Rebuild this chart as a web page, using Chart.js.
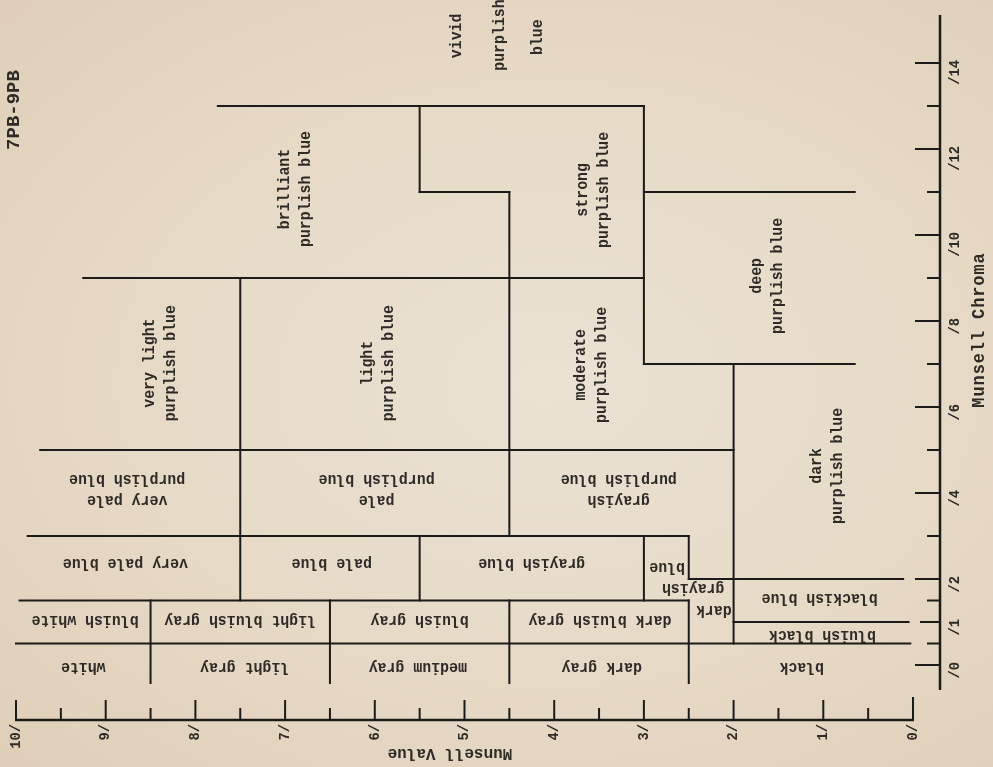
<!DOCTYPE html>
<html>
<head>
<meta charset="utf-8">
<title>7PB-9PB</title>
<script src="https://cdn.jsdelivr.net/npm/chart.js@4.4.0/dist/chart.umd.min.js"></script>
<style>
  html, body { margin: 0; padding: 0; }
  body {
    width: 993px; height: 767px; overflow: hidden;
    background: radial-gradient(ellipse at 55% 50%, #ebe2d4 0%, #e6d9c6 55%, #dfcfb9 100%);
  }
  canvas { display: block; }
</style>
</head>
<body>
<canvas id="chart" width="993" height="767"></canvas>
<script>
// Munsell value runs left (10) to right (0), chroma runs bottom (0) to top
const valueTicks = [10, 9, 8, 7, 6, 5, 4, 3, 2, 1, 0];
const valueHalfTicks = [9.5, 8.5, 7.5, 6.5, 5.5, 4.5, 3.5, 2.5, 1.5, 0.5];
const chromaMajorTicks = [0, 2, 4, 6, 8, 10, 12, 14];
const chromaMidTicks = [1];
const chromaMinorTicks = [0.5, 1.5, 3, 5, 7, 9, 11, 13];
const chromaLabels = [0, 1, 2, 4, 6, 8, 10, 12, 14];

// horizontal boundaries: [chroma, fromValue, toValue]
const chromaBounds = [
    [0.5, 10, 0.03],
    [1, 2, 0.05],
    [1.5, 9.96, 2.5],
    [2, 2.5, 0.11],
    [3, 9.87, 2.5],
    [5, 9.73, 2],
    [7, 3, 0.65],
    [9, 9.25, 3],
    [11, 5.5, 4.5],
    [11, 3, 0.65],
    [13, 7.75, 3]
];

// vertical boundaries: [value, fromChroma, toChroma]
const valueBounds = [
    [8.5, -0.42, 1.5],
    [6.5, -0.42, 1.5],
    [4.5, -0.42, 1.5],
    [2.5, -0.42, 1.5],
    [7.5, 1.5, 9],
    [5.5, 1.5, 3],
    [3, 1.5, 3],
    [2.5, 2, 3],
    [4.5, 3, 11],
    [5.5, 11, 13],
    [3, 7, 13],
    [2, 0.5, 7]
];

// names reading upward: [lines, value, chroma]
const uprightNames = [
    [['brilliant', 'purplish blue'], 6.88, 11.07],
    [['very light', 'purplish blue'], 8.39, 7.02],
    [['light', 'purplish blue'], 5.96, 7.02],
    [['strong', 'purplish blue'], 3.56, 11.05],
    [['moderate', 'purplish blue'], 3.59, 6.98],
    [['deep', 'purplish blue'], 1.62, 9.05],
    [['dark', 'purplish blue'], 0.95, 4.63],
    [['vivid'], 5.08, 14.63],
    [['purplish'], 4.60, 14.65],
    [['blue'], 4.18, 14.6]
];

// names printed upside down: [lines, value, chroma]
const invertedNames = [
    [['very pale', 'purplish blue'], 8.76, 4.07],
    [['pale', 'purplish blue'], 5.98, 4.07],
    [['grayish', 'purplish blue'], 3.28, 4.07],
    [['very pale blue'], 8.78, 2.37],
    [['pale blue'], 6.48, 2.37],
    [['grayish blue'], 4.25, 2.37],
    [['blue'], 2.74, 2.28],
    [['grayish'], 2.45, 1.79],
    [['dark'], 2.22, 1.28],
    [['bluish white'], 9.23, 1.05],
    [['light bluish gray'], 7.5, 1.05],
    [['bluish gray'], 5.5, 1.05],
    [['dark bluish gray'], 3.49, 1.05],
    [['blackish blue'], 1.04, 1.56],
    [['bluish black'], 1.01, 0.7],
    [['white'], 9.25, -0.05],
    [['light gray'], 7.45, -0.05],
    [['medium gray'], 5.52, -0.05],
    [['dark gray'], 3.47, -0.05],
    [['black'], 1.24, -0.05]
];

const INK = '#1d1b19';
const TEXT_INK = '#2e2a26';
const TYPE = '"Liberation Mono", "Courier New", monospace';

function segment(ctx, x1, y1, x2, y2) {
    ctx.beginPath();
    ctx.moveTo(x1, y1);
    ctx.lineTo(x2, y2);
    ctx.stroke();
}

// squeeze = horizontal scale of the glyphs, so a taller font keeps its width
function turnedText(ctx, lines, x, y, angle, lineHeight, squeeze = 1) {
    ctx.save();
    ctx.translate(x, y);
    ctx.rotate(angle);
    ctx.scale(squeeze, 1);
    lines.forEach((t, i) => {
        ctx.fillText(t, 0, (i - (lines.length - 1) / 2) * lineHeight);
    });
    ctx.restore();
}

const munsellPlugin = {
    id: 'munsell',
    afterDatasetsDraw(chart) {
        const ctx = chart.ctx;
        const xs = chart.scales.x;
        const ys = chart.scales.y;
        const area = chart.chartArea;
        const axisY = area.bottom + 55;
        const axisX = area.right + 27;

        ctx.save();
        ctx.strokeStyle = INK;
        ctx.lineCap = 'butt';

        // value axis
        ctx.lineWidth = 2.5;
        segment(ctx, xs.getPixelForValue(10) - 1, axisY, xs.getPixelForValue(0) + 1, axisY);
        ctx.lineWidth = 2;
        valueTicks.forEach(v => {
            const x = xs.getPixelForValue(v);
            segment(ctx, x, axisY, x, axisY - (v === 0 ? 23 : 20));
        });
        valueHalfTicks.forEach(v => {
            const x = xs.getPixelForValue(v);
            segment(ctx, x, axisY, x, axisY - 12);
        });

        // chroma axis
        ctx.lineWidth = 2.5;
        segment(ctx, axisX, area.top - 48, axisX, area.bottom + 25);
        ctx.lineWidth = 2;
        chromaMajorTicks.forEach(c => {
            const y = ys.getPixelForValue(c);
            segment(ctx, axisX, y, axisX - 25, y);
        });
        chromaMidTicks.forEach(c => {
            const y = ys.getPixelForValue(c);
            segment(ctx, axisX, y, axisX - 20, y);
        });
        chromaMinorTicks.forEach(c => {
            const y = ys.getPixelForValue(c);
            segment(ctx, axisX, y, axisX - 13, y);
        });

        // tick labels
        ctx.fillStyle = TEXT_INK;
        ctx.font = 'bold 15px ' + TYPE;
        ctx.textAlign = 'right';
        ctx.textBaseline = 'middle';
        valueTicks.forEach(v => {
            turnedText(ctx, [v + '/'], xs.getPixelForValue(v), axisY + 4, -Math.PI / 2, 0, 0.92);
        });
        chromaLabels.forEach(c => {
            turnedText(ctx, ['/' + c], axisX + 15, ys.getPixelForValue(c) - 3, -Math.PI / 2, 0, 0.92);
        });

        // axis titles
        ctx.textAlign = 'center';
        ctx.font = 'bold 17px ' + TYPE;
        turnedText(ctx, ['Munsell Value'], 450, 753, Math.PI, 0, 0.94);
        ctx.font = 'bold 18px ' + TYPE;
        ctx.letterSpacing = '1px';
        turnedText(ctx, ['Munsell Chroma'], 979, 330, -Math.PI / 2, 0, 0.94);
        ctx.letterSpacing = '0px';
        ctx.font = 'bold 19px ' + TYPE;
        turnedText(ctx, ['7PB-9PB'], 14, 110, -Math.PI / 2, 0);

        // colour names
        ctx.font = 'bold 16px ' + TYPE;
        uprightNames.forEach(([lines, v, c]) => {
            turnedText(ctx, lines, xs.getPixelForValue(v), ys.getPixelForValue(c), -Math.PI / 2, 21, 0.93);
        });
        invertedNames.forEach(([lines, v, c]) => {
            turnedText(ctx, lines, xs.getPixelForValue(v), ys.getPixelForValue(c), Math.PI, 21, 0.93);
        });

        ctx.restore();
    }
};

const boundaryStyle = {
    showLine: true,
    borderColor: INK,
    borderWidth: 2,
    borderCapStyle: 'square',
    pointRadius: 0,
    clip: false
};

const datasets = [
    ...chromaBounds.map(([c, v1, v2]) => ({
        ...boundaryStyle,
        data: [{ x: v1, y: c }, { x: v2, y: c }]
    })),
    ...valueBounds.map(([v, c1, c2]) => ({
        ...boundaryStyle,
        data: [{ x: v, y: c1 }, { x: v, y: c2 }]
    }))
];

new Chart(document.getElementById('chart'), {
    type: 'scatter',
    data: { datasets },
    options: {
        responsive: false,
        devicePixelRatio: 1,
        animation: false,
        layout: { padding: { left: 16, right: 80, top: 63, bottom: 102 } },
        scales: {
            x: { type: 'linear', min: 0, max: 10, reverse: true, display: false },
            y: { type: 'linear', min: 0, max: 14, display: false }
        },
        plugins: {
            legend: { display: false },
            tooltip: { enabled: false }
        }
    },
    plugins: [munsellPlugin]
});
</script>
</body>
</html>
